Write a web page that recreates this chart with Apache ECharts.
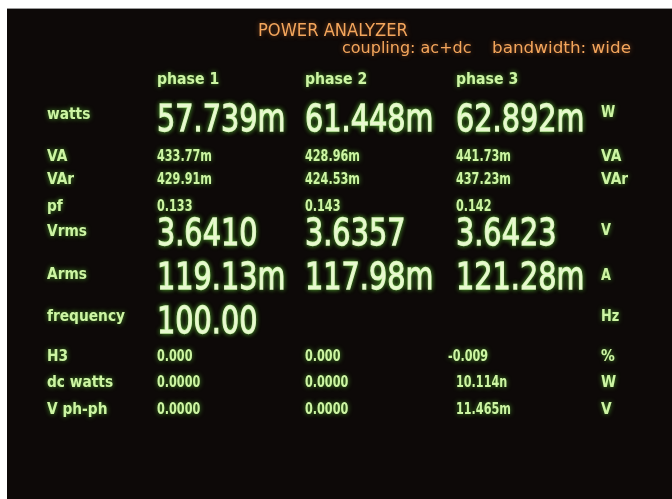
<!DOCTYPE html>
<html><head><meta charset="utf-8">
<script src="https://cdn.jsdelivr.net/npm/echarts@6/dist/echarts.min.js"></script>
<style>html,body{margin:0;padding:0;background:#fff}#c{width:672px;height:499px}</style>
</head><body><div id="c"></div>
<script>
var title = 'POWER ANALYZER';
var coupling = 'coupling: ac+dc';
var bandwidth = 'bandwidth: wide';
var phases = ['phase 1', 'phase 2', 'phase 3'];
var rowLabels = ['watts', 'VA', 'VAr', 'pf', 'Vrms', 'Arms', 'frequency', 'H3', 'dc watts', 'V ph-ph'];
var phase1 = ['57.739m', '433.77m', '429.91m', '0.133', '3.6410', '119.13m', '100.00', '0.000', '0.0000', '0.0000'];
var phase2 = ['61.448m', '428.96m', '424.53m', '0.143', '3.6357', '117.98m', '', '0.000', '0.0000', '0.0000'];
var phase3 = ['62.892m', '441.73m', '437.23m', '0.142', '3.6423', '121.28m', '', '-0.009', '10.114n', '11.465m'];
var units = ['W', 'VA', 'VAr', '', 'V', 'A', 'Hz', '%', 'W', 'V'];

// layout (not data)
var bigRows = [0, 4, 5, 6];
var labelY = [115, 157, 180, 207, 232, 275, 317, 357, 383, 410];
var valueY = [121, 157, 180, 207, 235, 279, 323, 357, 383, 410];
var unitY  = [113, 157, 180, 207, 231, 276, 317, 357, 383, 410];
var colX = [157, 305, 456];
var labelX = 47, unitX = 601;

var GREEN = '#cdf5a3', BRIGHT = '#e8f9cf', ORANGE = '#f4a65c', GLOW = 'rgba(110,230,60,0.65)';
var OGLOW = 'rgba(255,140,60,0.5)';
var FF = '"DejaVu Sans", sans-serif';

function txt(s, x, y, size, weight, fill, sx, glow, stroke) {
  var st = {
    text: s, x: 0, y: 0, fill: fill,
    font: weight + ' ' + size + 'px ' + FF,
    textAlign: 'left', textVerticalAlign: 'middle',
    textShadowColor: glow, textShadowBlur: 5
  };
  if (stroke) { st.stroke = fill; st.lineWidth = stroke; }
  return {type: 'text', x: x, y: y, scaleX: sx, scaleY: 1, silent: true, style: st};
}

var g = [];
g.push({type: 'rect', shape: {x: 0, y: 0, width: 672, height: 499}, style: {fill: '#ffffff'}, silent: true});
g.push({type: 'rect', shape: {x: 7, y: 9, width: 665, height: 490}, style: {fill: '#0d0908'}, silent: true});
g.push({type: 'rect', shape: {x: 7, y: 8, width: 665, height: 1}, style: {fill: '#9a9a9a'}, silent: true});

g.push(txt(title, 258, 32, 17, 'normal', ORANGE, 0.96, OGLOW));
g.push(txt(coupling, 342, 49, 16, 'normal', ORANGE, 1.0, OGLOW));
g.push(txt(bandwidth, 492, 49, 16, 'normal', ORANGE, 1.05, OGLOW));

phases.forEach(function (p, i) {
  g.push(txt(p, colX[i], 80, 16, 'bold', GREEN, 0.88, GLOW));
});

var cols = [phase1, phase2, phase3];
rowLabels.forEach(function (lab, r) {
  var big = bigRows.indexOf(r) >= 0;
  g.push(txt(lab, labelX, labelY[r], 16, 'bold', GREEN, 0.86, GLOW));
  cols.forEach(function (col, c) {
    var v = col[r];
    if (!v) return;
    var x = colX[c];
    if (v.charAt(0) === '-') x -= 8;
    if (big) g.push(txt(v, x, valueY[r], 38, 'normal', BRIGHT, 0.755, GLOW, 1.3));
    else g.push(txt(v, x, valueY[r], 16, 'bold', GREEN, 0.7, GLOW));
  });
  if (units[r]) {
    g.push(txt(units[r], unitX, unitY[r], big ? 15 : 16, 'bold', GREEN, 0.86, GLOW));
  }
});

var chart = echarts.init(document.getElementById('c'), null, {renderer: 'canvas'});
chart.setOption({backgroundColor: '#ffffff', animation: false, graphic: {elements: g}});
</script></body></html>
